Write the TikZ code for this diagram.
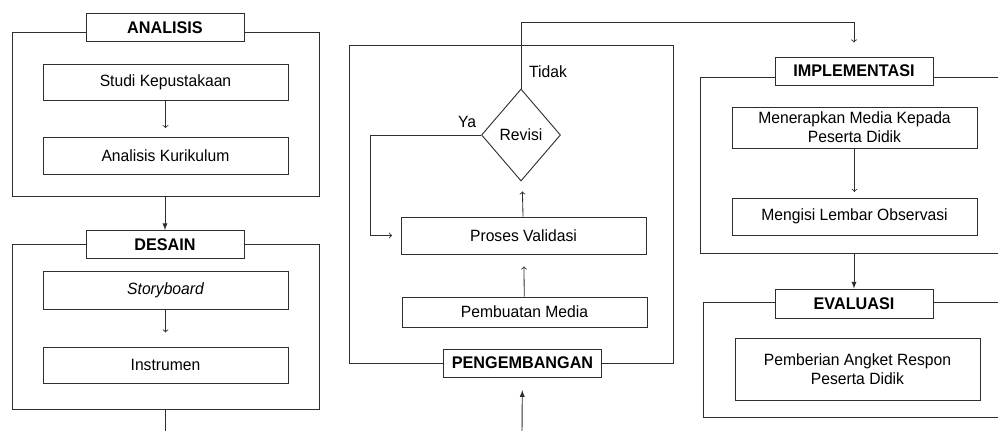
\documentclass[tikz,border=0pt]{standalone}
\usepackage{fontspec}
\setmainfont[FakeStretch=0.96]{Liberation Sans}
\usetikzlibrary{shapes.geometric, arrows, positioning, fit}
\definecolor{mline}{HTML}{2E2E2E}
\tikzstyle{frame} = [rectangle, draw=mline, line width=0.65pt, inner sep=0pt]
\tikzstyle{title} = [rectangle, draw=mline, line width=0.65pt, fill=white, minimum width=3.95cm, minimum height=0.7cm, text centered, font=\fontsize{12}{14}\selectfont\bfseries]
\tikzstyle{task} = [rectangle, draw=mline, line width=0.65pt, minimum width=6.125cm, minimum height=0.9cm, text centered, align=center]
\tikzstyle{decision} = [diamond, draw=mline, line width=0.65pt, minimum width=1.975cm, minimum height=2.3cm, inner sep=0pt]
\tikzstyle{flow} = [draw=mline, line width=0.6pt, ->, >=to]
\tikzstyle{link} = [draw=mline, line width=0.65pt, -latex]

\begin{document}
\begin{tikzpicture}[x=0.025cm, y=-0.025cm, font=\fontsize{11.6}{13.6}\selectfont]
  \useasboundingbox (0,0) rectangle (998,430);
  \clip (0,0) rectangle (998,430);
  \node (anabox) [frame, fit={(12,32) (319,196)}] {};
  \node (desbox) [frame, fit={(12,244) (319,409)}] {};
  \node (pengbox) [frame, fit={(349,45) (673,363)}] {};
  \node (impbox) [frame, fit={(700,77) (1010,253)}] {};
  \node (evalbox) [frame, fit={(703,302) (1010,417)}] {};
  \node (anatitle) [title] at (165,27.5) {ANALISIS};
  \node (studi) [task] at (165.5,82) {Studi Kepustakaan};
  \node (kurikulum) [task, minimum height=0.925cm] at (165.5,155.5) {Analisis Kurikulum};
  \node (destitle) [title] at (165,244.5) {DESAIN};
  \node (story) [task, minimum height=0.95cm] at (165.5,290) {\itshape Storyboard};
  \node (instr) [task] at (165.5,365) {Instrumen};
  \node (pengtitle) [title] at (522.5,363) {PENGEMBANGAN};
  \node (revisi) [decision] at (521,135) {Revisi};
  \node (valid) [task, minimum height=0.925cm] at (523.5,235.5) {Proses Validasi};
  \node (media) [task, minimum height=0.75cm] at (524.5,312) {Pembuatan Media};
  \node (tidak) at (548,72) {Tidak};
  \node (ya) at (467,122) {Ya};
  \node (imptitle) [title] at (854,71) {IMPLEMENTASI};
  \node (terap) [task, minimum height=1.025cm] at (854.5,127.5) {Menerapkan Media Kepada\\Peserta Didik};
  \node (isi) [task, minimum height=0.925cm] at (854.5,216.5) {Mengisi Lembar Observasi};
  \node (evaltitle) [title, minimum height=0.725cm] at (854,303.5) {EVALUASI};
  \node (respon) [task, minimum height=1.55cm] at (857.5,369) {Pemberian Angket Respon\\Peserta Didik};
  \coordinate (desout) at (165,432);
  \coordinate (pengin) at (522,432);
  \draw [flow, shorten >=6pt] (studi) -- (kurikulum);
  \draw [flow, shorten >=10pt] (story) -- (instr);
  \draw [flow, shorten >=8.5pt] (media) -- (valid);
  \draw [flow, shorten >=8pt] (valid) -- (revisi);
  \draw [flow, shorten >=6pt] (revisi.west) -- ++(-111,0) |- (valid.west);
  \draw [flow, shorten >=10pt] (revisi.north) -- ++(0,-66) -| (imptitle.north);
  \draw [flow, shorten >=4pt] (terap) -- (isi);
  \draw [link] (anabox.south -| anatitle) -- (destitle);
  \draw [mline, line width=0.65pt] (desbox.south -| destitle) -- (desout);
  \draw [link, shorten >=9pt] (pengin) -- (pengtitle);
  \draw [link] (impbox.south -| imptitle) -- (evaltitle);
\end{tikzpicture}
\end{document}
